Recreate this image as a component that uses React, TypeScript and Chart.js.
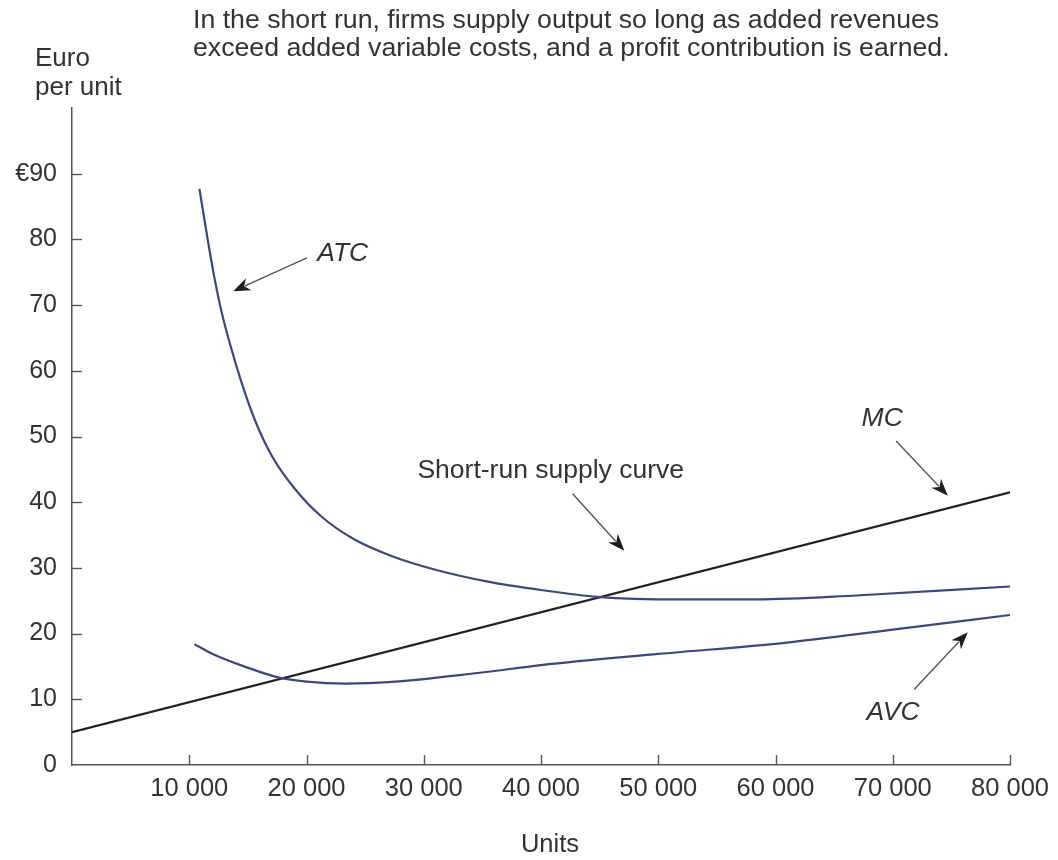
import React, { useEffect, useRef } from "react";
import { Chart, registerables } from "chart.js";

Chart.register(...registerables);

// ---------- Data ----------
const TITLE_LINES = [
  "In the short run, firms supply output so long as added revenues",
  "exceed added variable costs, and a profit contribution is earned.",
];
const Y_TITLE_LINES = ["Euro", "per unit"];
const X_TITLE = "Units";

const X_TICKS = [10000, 20000, 30000, 40000, 50000, 60000, 70000, 80000];
const Y_TICKS = [0, 10, 20, 30, 40, 50, 60, 70, 80, 90];

const ATC_Q = [10870, 11460, 12050, 12650, 13410, 14430, 15620, 17060, 18930, 21220, 24020, 27420, 31240, 35480, 40150, 44820, 51610, 58400, 66890, 80300];
const ATC_V = [87.7, 81.2, 75.1, 69.8, 64.5, 58.4, 52.4, 47.0, 42.2, 37.9, 34.4, 31.7, 29.6, 27.9, 26.6, 25.6, 25.2, 25.2, 25.8, 27.2];

const AVC_Q = [10440, 12000, 14850, 17660, 20000, 23340, 27000, 34630, 40000, 50000, 60780, 70000, 80300];
const AVC_V = [18.4, 16.9, 14.9, 13.3, 12.7, 12.4, 12.6, 14.0, 15.2, 16.9, 18.6, 20.6, 22.9];

const MC_Q = [0, 80000];
const MC_V = [5, 41.5];

// Annotation labels with arrows (data coordinates)
const NOTES = [
  { text: "ATC", italic: true, tq: 23090, tv: 77.8, fq: 20030, fv: 77.2, pq: 13750, pv: 72.1 },
  { text: "MC", italic: true, tq: 69100, tv: 52.7, fq: 70290, fv: 49.3, pq: 74700, pv: 41.0 },
  { text: "Short-run supply curve", italic: false, tq: 40830, tv: 44.8, fq: 42700, fv: 41.3, pq: 47110, pv: 32.6 },
  { text: "AVC", italic: true, tq: 70030, tv: 8.0, fq: 71820, fv: 11.5, pq: 76400, pv: 20.2 },
];

// ---------- Styles ----------
const FONT = "'Liberation Sans', Arial, Helvetica, sans-serif";
const TEXT_COLOR = "#333333";
const AXIS_COLOR = "#555555";
const CURVE_BLUE = "#3a4787";
const MC_COLOR = "#222222";

function toXY(q: number[], v: number[]) {
  return q.map((qq, i) => ({ x: qq, y: v[i] }));
}

const decorPlugin = {
  id: "decor",
  afterDatasetsDraw(chart: any) {
    const { ctx, chartArea, scales } = chart;
    const xs = scales.x;
    const ys = scales.y;
    ctx.save();
    // inward tick marks
    ctx.strokeStyle = AXIS_COLOR;
    ctx.lineWidth = 1.4;
    X_TICKS.forEach((v) => {
      const px = Math.round(xs.getPixelForValue(v)) + 0.5;
      ctx.beginPath();
      ctx.moveTo(px, chartArea.bottom);
      ctx.lineTo(px, chartArea.bottom - 10);
      ctx.stroke();
    });
    Y_TICKS.filter((v) => v > 0).forEach((v) => {
      const py = Math.round(ys.getPixelForValue(v)) + 0.5;
      ctx.beginPath();
      ctx.moveTo(chartArea.left, py);
      ctx.lineTo(chartArea.left + 10, py);
      ctx.stroke();
    });

    // arrows and labels
    NOTES.forEach((n) => {
      const x1 = xs.getPixelForValue(n.fq);
      const y1 = ys.getPixelForValue(n.fv);
      const x2 = xs.getPixelForValue(n.pq);
      const y2 = ys.getPixelForValue(n.pv);
      const ang = Math.atan2(y2 - y1, x2 - x1);
      const headLen = 17;
      const headW = 6.5;
      const bx = x2 - headLen * Math.cos(ang);
      const by = y2 - headLen * Math.sin(ang);
      ctx.strokeStyle = "#555555";
      ctx.lineWidth = 1.4;
      ctx.beginPath();
      ctx.moveTo(x1, y1);
      ctx.lineTo(bx + 4 * Math.cos(ang), by + 4 * Math.sin(ang));
      ctx.stroke();
      ctx.fillStyle = "#1e1e1e";
      ctx.beginPath();
      ctx.moveTo(x2, y2);
      ctx.lineTo(bx + headW * Math.sin(ang), by - headW * Math.cos(ang));
      ctx.lineTo(x2 - (headLen - 5) * Math.cos(ang), y2 - (headLen - 5) * Math.sin(ang));
      ctx.lineTo(bx - headW * Math.sin(ang), by + headW * Math.cos(ang));
      ctx.closePath();
      ctx.fill();

      ctx.fillStyle = TEXT_COLOR;
      ctx.font = (n.italic ? "italic " : "") + "26.5px " + FONT;
      ctx.textAlign = "center";
      ctx.textBaseline = "middle";
      ctx.fillText(n.text, xs.getPixelForValue(n.tq), ys.getPixelForValue(n.tv));
    });

    // title and axis titles
    ctx.fillStyle = TEXT_COLOR;
    ctx.font = "26.7px " + FONT;
    ctx.textAlign = "left";
    ctx.textBaseline = "middle";
    TITLE_LINES.forEach((t, i) => ctx.fillText(t, 193, 21 + i * 28));
    ctx.font = "26px " + FONT;
    Y_TITLE_LINES.forEach((t, i) => ctx.fillText(t, 35, 59 + i * 29));
    ctx.textAlign = "center";
    ctx.font = "25.5px " + FONT;
    ctx.fillText(X_TITLE, 550, 845);
    ctx.restore();
  },
};

export default function App() {
  const ref = useRef<HTMLCanvasElement | null>(null);
  useEffect(() => {
    if (!ref.current) return;
    const chart = new Chart(ref.current, {
      type: "line",
      data: {
        datasets: [
          {
            label: "ATC",
            data: toXY(ATC_Q, ATC_V),
            borderColor: CURVE_BLUE,
            borderWidth: 2.2,
            pointRadius: 0,
            cubicInterpolationMode: "monotone",
          },
          {
            label: "AVC",
            data: toXY(AVC_Q, AVC_V),
            borderColor: CURVE_BLUE,
            borderWidth: 2.2,
            pointRadius: 0,
            cubicInterpolationMode: "monotone",
          },
          {
            label: "MC",
            data: toXY(MC_Q, MC_V),
            borderColor: MC_COLOR,
            borderWidth: 2.2,
            pointRadius: 0,
          },
        ],
      },
      options: {
        responsive: false,
        animation: false,
        layout: { padding: { left: 0, top: 108, right: 43, bottom: 0 } },
        plugins: {
          legend: { display: false },
          tooltip: { enabled: false },
          title: { display: false },
        },
        scales: {
          x: {
            type: "linear",
            min: 0,
            max: 80000,
            afterFit: (s: any) => {
              s.height = 95;
            },
            afterBuildTicks: (s: any) => {
              s.ticks = X_TICKS.map((v) => ({ value: v }));
            },
            ticks: {
              color: TEXT_COLOR,
              font: { family: FONT, size: 25.5 },
              padding: 9,
              maxRotation: 0,
              autoSkip: false,
              callback: (v: any) => String(v).replace(/\B(?=(\d{3})+(?!\d))/g, " "),
            },
            grid: { display: true, drawOnChartArea: false, drawTicks: false, color: "rgba(0,0,0,0)" },
            border: { display: true, color: AXIS_COLOR, width: 1.5 },
          },
          y: {
            type: "linear",
            min: 0,
            max: 100,
            afterFit: (s: any) => {
              s.width = 72;
            },
            afterBuildTicks: (s: any) => {
              s.ticks = Y_TICKS.map((v) => ({ value: v }));
            },
            ticks: {
              color: TEXT_COLOR,
              font: { family: FONT, size: 25 },
              padding: 15,
              autoSkip: false,
              callback: (v: any) => (v === 90 ? "€90" : String(v)),
            },
            grid: { display: true, drawOnChartArea: false, drawTicks: false, color: "rgba(0,0,0,0)" },
            border: { display: true, color: AXIS_COLOR, width: 1.5 },
          },
        },
      },
      plugins: [decorPlugin],
    });
    return () => chart.destroy();
  }, []);

  return (
    <div style={{ position: "absolute", left: 0, top: 0, width: 1058, height: 860, background: "#ffffff" }}>
      <canvas ref={ref} width={1058} height={860} style={{ display: "block" }} />
    </div>
  );
}
